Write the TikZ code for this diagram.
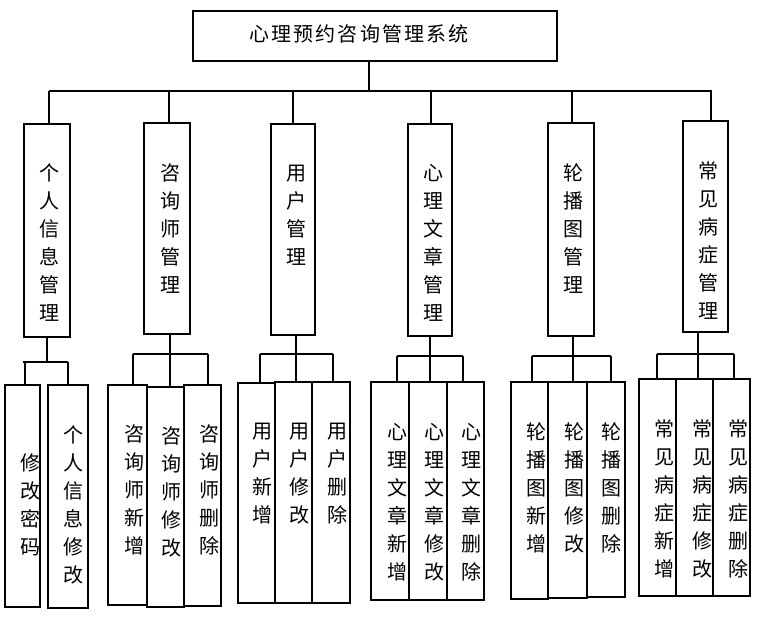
\documentclass[tikz,border=0pt]{standalone}
\usepackage{fontspec}
\newfontfamily\cjk{Noto Sans CJK SC}
\newcommand\ts{\hspace{2.2pt}}
\tikzset{
  bx/.style={draw, line width=1.1pt, inner sep=0pt},
  vt/.style={font=\cjk\fontsize{20}{28}\selectfont, align=center, inner sep=0pt},
  ln/.style={line width=1.1pt}
}
% box: name, x1, y1, x2, y2
\newcommand\bx[5]{\node[bx, minimum width={(#4-#2)*1pt}, minimum height={(#5-#3)*1pt}] (#1) at ({(#2+#4)/2},{(#3+#5)/2}) {};}
\begin{document}
\begin{tikzpicture}[x=1pt, y=-1pt]
\useasboundingbox (0,0) rectangle (780,622);
% top
\bx{top}{193}{11}{557}{61}
\node[font=\cjk\fontsize{20}{24}\selectfont, inner sep=0pt] (topt) at (359,34) {心\ts 理\ts 预\ts 约\ts 咨\ts 询\ts 管\ts 理\ts 系\ts 统};
% level 1
\bx{b1}{24}{124}{70}{337}
\bx{b2}{144}{123}{190}{334}
\bx{b3}{271}{124}{315}{335}
\bx{b4}{408}{124}{452}{336}
\bx{b5}{548}{123}{594}{336}
\bx{b6}{683}{121}{728}{332}
\node[vt] (b1t) at (49,243) {个\\人\\信\\息\\管\\理};
\node[vt] (b2t) at (170,229) {咨\\询\\师\\管\\理};
\node[vt] (b3t) at (296,215) {用\\户\\管\\理};
\node[vt] (b4t) at (433,243) {心\\理\\文\\章\\管\\理};
\node[vt] (b5t) at (573,229) {轮\\播\\图\\管\\理};
\node[vt] (b6t) at (708,241) {常\\见\\病\\症\\管\\理};
% level 2
\bx{c11}{5}{385}{40}{607}
\bx{c12}{48}{385}{88}{608}
\bx{c21}{108}{385}{147}{605}
\bx{c22}{147}{387}{184}{607}
\bx{c23}{184}{385}{221}{606}
\bx{c31}{238}{383}{275}{603}
\bx{c32}{275}{382}{312}{603}
\bx{c33}{312}{382}{350}{603}
\bx{c41}{371}{382}{409}{600}
\bx{c42}{409}{382}{447}{600}
\bx{c43}{447}{382}{484}{600}
\bx{c51}{511}{382}{548}{599}
\bx{c52}{548}{382}{587}{598}
\bx{c53}{587}{382}{625}{597}
\bx{c61}{639}{379}{676}{596}
\bx{c62}{676}{379}{713}{596}
\bx{c63}{713}{379}{750}{596}
\node[vt] (c11t) at (30,505) {修\\改\\密\\码};
\node[vt] (c12t) at (73,505) {个\\人\\信\\息\\修\\改};
\node[vt] (c21t) at (134,490) {咨\\询\\师\\新\\增};
\node[vt] (c22t) at (171,492) {咨\\询\\师\\修\\改};
\node[vt] (c23t) at (209,490) {咨\\询\\师\\删\\除};
\node[vt] (c31t) at (262,474) {用\\户\\新\\增};
\node[vt] (c32t) at (299,474) {用\\户\\修\\改};
\node[vt] (c33t) at (337,474) {用\\户\\删\\除};
\node[vt] (c41t) at (397,502) {心\\理\\文\\章\\新\\增};
\node[vt] (c42t) at (434,502) {心\\理\\文\\章\\修\\改};
\node[vt] (c43t) at (471,502) {心\\理\\文\\章\\删\\除};
\node[vt] (c51t) at (536,488) {轮\\播\\图\\新\\增};
\node[vt] (c52t) at (574,488) {轮\\播\\图\\修\\改};
\node[vt] (c53t) at (611,488) {轮\\播\\图\\删\\除};
\node[vt] (c61t) at (664,499) {常\\见\\病\\症\\新\\增};
\node[vt] (c62t) at (702,499) {常\\见\\病\\症\\修\\改};
\node[vt] (c63t) at (738,499) {常\\见\\病\\症\\删\\除};
% level-1 connectors
\coordinate (busT) at (369,91);
\coordinate (busL) at (49,91);
\coordinate (busR) at (712,91);
\draw[ln] (top.south -| busT) -- (busT);
\draw[ln] (busL) -- (busR);
\foreach \b/\x in {b1/49,b2/169,b3/293,b4/431,b5/572,b6/711}{
  \coordinate (\b d) at (\x,91);
  \draw[ln] (\b d) -- (\b d |- \b.north);
}
% level-2 connectors: parent, px, hy, drops (x/child)
\newcommand\grp[4]{%
  \coordinate (#1h) at (#2,#3);
  \draw[ln] (#1h |- #1.south) -- (#1h);
  \foreach \x/\c in {#4}{
    \coordinate (\c h) at (\x,#3);
    \draw[ln] (\c h) -- (\c h |- \c.north);
  }
}
\grp{b1}{47}{362}{25/c11,68/c12}
\draw[ln] (23,362) -- (c12h);
\grp{b2}{170}{354}{133/c21,170/c22,208/c23}
\draw[ln] (c21h) -- (c23h);
\grp{b3}{296}{354}{260/c31,296/c32,333/c33}
\draw[ln] (c31h) -- (c33h);
\grp{b4}{430}{356}{397/c41,430/c42,463/c43}
\draw[ln] (c41h) -- (c43h);
\grp{b5}{573}{356}{532/c51,573/c52,611/c53}
\draw[ln] (c51h) -- (c53h);
\grp{b6}{698}{354}{657/c61,698/c62,734/c63}
\draw[ln] (c61h) -- (c63h);
\end{tikzpicture}
\end{document}
